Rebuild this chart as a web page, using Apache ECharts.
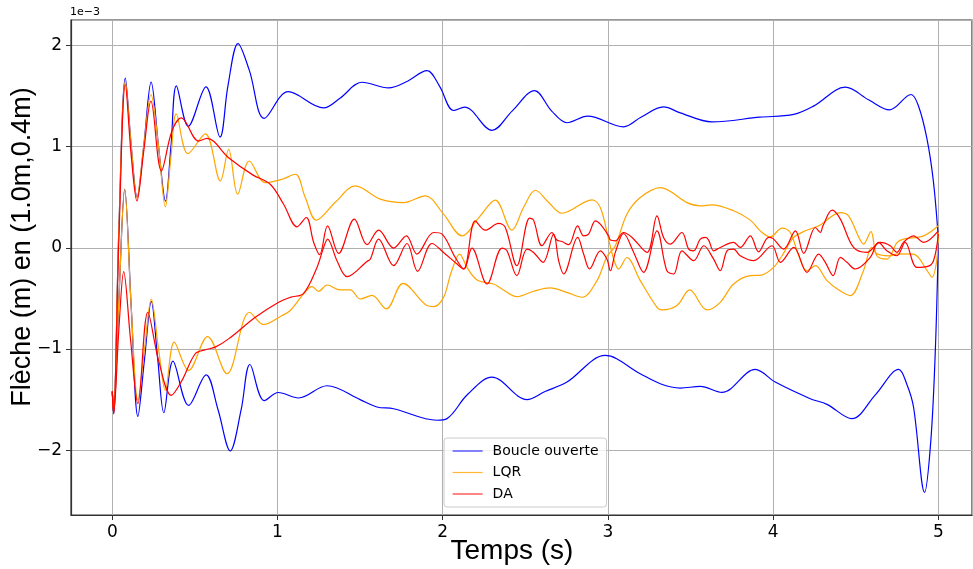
<!DOCTYPE html>
<html>
<head>
<meta charset="utf-8">
<script src="https://cdn.jsdelivr.net/npm/echarts@6/dist/echarts.min.js"></script>
<style>
html,body{margin:0;padding:0;background:#fff;}
#chart{width:973px;height:569px;}
</style>
</head>
<body>
<div id="chart"></div>
<script>
// Values are in units of 1e-3 m
const seriesNames = ['Boucle ouverte', 'LQR', 'DA'];
const xTicks = [0, 1, 2, 3, 4, 5];
const yTicks = [-2, -1, 0, 1, 2];

const boucleHaut = [[0,-1.42],[0.008,-1.64],[0.04,0.2],[0.079,1.675],[0.115,1.0],[0.15,0.50],[0.19,1.0],[0.235,1.637],[0.28,1.0],[0.322,0.46],[0.355,1.0],[0.388,1.60],[0.46,1.20],[0.567,1.59],[0.652,1.093],[0.70,1.6],[0.761,2.017],[0.83,1.75],[0.92,1.278],[1.065,1.542],[1.279,1.382],[1.38,1.48],[1.511,1.635],[1.673,1.58],[1.78,1.64],[1.905,1.75],[1.98,1.6],[2.066,1.356],[2.133,1.389],[2.298,1.16],[2.42,1.35],[2.556,1.553],[2.66,1.35],[2.752,1.235],[2.877,1.30],[3.095,1.195],[3.2,1.29],[3.337,1.392],[3.438,1.333],[3.63,1.244],[3.92,1.29],[4.125,1.317],[4.245,1.399],[4.437,1.586],[4.58,1.46],[4.705,1.362],[4.835,1.514],[4.88,1.4],[4.93,1.087],[4.97,0.66],[5.0,0.1]];
const boucleBas = [[0,-1.42],[0.008,-1.64],[0.04,-0.5],[0.075,0.578],[0.115,-0.6],[0.155,-1.665],[0.195,-1.1],[0.236,-0.53],[0.275,-1.1],[0.312,-1.63],[0.367,-1.12],[0.462,-1.557],[0.568,-1.256],[0.64,-1.6],[0.714,-2.007],[0.78,-1.6],[0.833,-1.153],[0.92,-1.51],[1.005,-1.43],[1.128,-1.484],[1.3,-1.363],[1.5,-1.50],[1.602,-1.573],[1.703,-1.59],[1.965,-1.704],[2.026,-1.688],[2.15,-1.45],[2.298,-1.278],[2.51,-1.50],[2.62,-1.42],[2.752,-1.327],[2.984,-1.064],[3.196,-1.244],[3.317,-1.343],[3.438,-1.386],[3.559,-1.37],[3.69,-1.429],[3.892,-1.202],[4.013,-1.327],[4.225,-1.491],[4.326,-1.547],[4.477,-1.688],[4.62,-1.45],[4.76,-1.202],[4.81,-1.35],[4.85,-1.573],[4.917,-2.417],[4.955,-1.90],[4.982,-1.015],[5.0,0.05]];

const lqrA = [[0,-1.42],[0.008,-1.62],[0.04,0.2],[0.079,1.645],[0.115,1.0],[0.149,0.496],[0.19,1.0],[0.234,1.514],[0.28,1.0],[0.321,0.404],[0.355,0.9],[0.387,1.323],[0.458,0.929],[0.563,1.126],[0.654,0.66],[0.704,0.972],[0.759,0.529],[0.829,0.857],[0.926,0.643],[1.027,0.677],[1.108,0.726],[1.168,0.496],[1.235,0.273],[1.35,0.45],[1.471,0.611],[1.622,0.48],[1.763,0.446],[1.895,0.512],[2.005,0.332],[2.117,0.118],[2.22,0.3],[2.318,0.47],[2.419,0.174],[2.49,0.4],[2.561,0.568],[2.64,0.45],[2.722,0.341],[2.904,0.473],[2.954,0.397],[3.004,0.086],[3.035,-0.111],[3.065,-0.21],[3.115,-0.096],[3.196,-0.325],[3.297,-0.588],[3.327,-0.614],[3.418,-0.571],[3.495,-0.417],[3.6,-0.614],[3.68,-0.539],[3.761,-0.358],[3.862,-0.276],[3.93,-0.27],[4.003,-0.194],[4.054,-0.079],[4.125,0.102],[4.2,0.17],[4.28,0.22],[4.407,0.348],[4.457,0.315],[4.52,0.1],[4.547,0.036],[4.592,0.16],[4.628,-0.079],[4.689,-0.112],[4.75,0.05],[4.789,0.085],[4.911,0.118],[5.0,0.217]];
const lqrB = [[0,-1.42],[0.008,-1.62],[0.04,-0.5],[0.075,0.578],[0.115,-0.6],[0.155,-1.507],[0.195,-1.0],[0.236,-0.506],[0.28,-1.0],[0.321,-1.409],[0.375,-0.933],[0.462,-1.212],[0.577,-0.877],[0.694,-1.244],[0.831,-0.637],[0.916,-0.759],[1.027,-0.67],[1.077,-0.62],[1.158,-0.456],[1.209,-0.384],[1.249,-0.43],[1.3,-0.368],[1.38,-0.417],[1.441,-0.417],[1.501,-0.506],[1.572,-0.47],[1.659,-0.604],[1.76,-0.351],[1.905,-0.571],[1.945,-0.581],[2.005,-0.49],[2.05,-0.25],[2.103,-0.062],[2.147,-0.194],[2.208,-0.318],[2.308,-0.358],[2.349,-0.397],[2.45,-0.483],[2.55,-0.43],[2.651,-0.397],[2.75,-0.44],[2.843,-0.489],[2.934,-0.325],[2.994,-0.089],[3.045,0.02],[3.115,0.332],[3.196,0.496],[3.317,0.594],[3.479,0.446],[3.559,0.414],[3.63,0.424],[3.761,0.365],[3.862,0.273],[3.922,0.167],[3.983,0.108],[4.054,0.194],[4.104,0.151],[4.155,-0.079],[4.205,-0.227],[4.256,-0.177],[4.326,-0.325],[4.40,-0.42],[4.467,-0.473],[4.547,-0.227],[4.597,0.003],[4.628,-0.06],[4.70,-0.08],[4.76,-0.06],[4.85,-0.062],[4.93,-0.22],[4.962,-0.292],[4.99,-0.128],[5.0,0.15]];

const daA = [[0,-1.42],[0.008,-1.62],[0.04,0.1],[0.079,1.613],[0.115,0.9],[0.149,0.463],[0.19,0.95],[0.234,1.448],[0.297,0.759],[0.361,1.153],[0.418,1.284],[0.522,1.054],[0.573,1.081],[0.704,0.89],[0.85,0.72],[0.956,0.627],[1.037,0.43],[1.118,0.207],[1.174,0.299],[1.219,0.052],[1.255,-0.069],[1.303,0.217],[1.37,-0.056],[1.465,0.283],[1.542,0.03],[1.612,0.174],[1.703,-0.003],[1.78,0.118],[1.844,-0.062],[1.945,0.151],[1.996,0.135],[2.076,-0.096],[2.127,-0.21],[2.197,0.266],[2.258,0.174],[2.338,0.24],[2.379,0.2],[2.449,-0.177],[2.526,0.292],[2.55,0.273],[2.601,0.02],[2.661,0.151],[2.691,0.076],[2.722,0.062],[2.762,0.03],[2.817,0.217],[2.853,0.118],[2.883,0.135],[2.924,0.266],[2.954,0.233],[3.004,0.118],[3.015,0.076],[3.045,0.069],[3.095,0.151],[3.146,0.102],[3.237,-0.046],[3.297,0.315],[3.337,0.102],[3.378,0.036],[3.448,0.151],[3.489,-0.013],[3.519,-0.03],[3.559,0.085],[3.59,0.102],[3.61,0.076],[3.64,-0.03],[3.68,0.003],[3.761,0.053],[3.801,0.003],[3.862,0.118],[3.912,-0.04],[3.973,0.102],[4.0,0.09],[4.064,-0.013],[4.135,0.167],[4.185,-0.056],[4.256,0.2],[4.286,0.151],[4.302,0.217],[4.357,0.371],[4.407,0.283],[4.487,0.003],[4.568,-0.046],[4.648,0.053],[4.709,0.02],[4.749,-0.046],[4.789,0.053],[4.85,0.118],[4.911,0.053],[5.0,0.167]];
const daB = [[0,-1.42],[0.008,-1.64],[0.04,-0.8],[0.069,-0.236],[0.11,-0.9],[0.155,-1.54],[0.215,-0.637],[0.28,-1.113],[0.357,-1.458],[0.422,-1.31],[0.502,-1.047],[0.563,-1.008],[0.623,-0.982],[0.704,-0.9],[0.866,-0.687],[1.007,-0.539],[1.077,-0.49],[1.158,-0.45],[1.239,-0.194],[1.279,0.003],[1.303,0.086],[1.36,-0.128],[1.421,-0.286],[1.542,-0.135],[1.562,-0.111],[1.612,0.086],[1.703,-0.177],[1.784,0.042],[1.848,-0.233],[1.935,0.042],[2.005,-0.046],[2.087,-0.161],[2.127,-0.21],[2.177,-0.003],[2.268,-0.358],[2.359,-0.003],[2.389,-0.03],[2.449,-0.276],[2.51,-0.013],[2.55,-0.046],[2.607,-0.144],[2.671,0.135],[2.702,-0.129],[2.732,-0.259],[2.817,0.102],[2.853,-0.062],[2.889,-0.21],[2.954,-0.03],[2.994,-0.112],[3.015,-0.227],[3.045,-0.046],[3.095,0.141],[3.156,-0.046],[3.216,-0.243],[3.297,0.167],[3.357,-0.227],[3.398,-0.259],[3.448,-0.03],[3.519,-0.128],[3.58,0.02],[3.64,-0.112],[3.68,-0.227],[3.721,-0.03],[3.761,-0.013],[3.801,-0.079],[3.882,-0.128],[3.993,0.02],[4.044,-0.144],[4.125,0.003],[4.205,-0.243],[4.276,-0.062],[4.316,-0.144],[4.363,-0.276],[4.407,-0.095],[4.447,-0.144],[4.497,-0.21],[4.588,-0.095],[4.638,0.053],[4.689,-0.03],[4.749,-0.079],[4.799,0.053],[4.87,-0.194],[4.931,-0.187],[4.971,-0.128],[5.0,0.135]];

const colors = {'Boucle ouverte': '#0000ff', 'LQR': '#ffa500', 'DA': '#ff0000'};
const lines = [
  {name: 'Boucle ouverte', data: boucleHaut},
  {name: 'Boucle ouverte', data: boucleBas},
  {name: 'LQR', data: lqrA},
  {name: 'LQR', data: lqrB},
  {name: 'DA', data: daA},
  {name: 'DA', data: daB}
];

const tickFont = 'DejaVu Sans';
const chart = echarts.init(document.getElementById('chart'), null, {renderer: 'canvas'});
const fmt = v => String(v).replace('-', '\u2212');

chart.setOption({
  animation: false,
  backgroundColor: '#ffffff',
  grid: {left: 71, top: 20, width: 901, height: 495, show: true, borderColor: '#333', borderWidth: 1.2, backgroundColor: 'transparent'},
  xAxis: {
    type: 'value', min: -0.25, max: 5.204, minInterval: 1, maxInterval: 1,
    axisLine: {show: true, onZero: false, lineStyle: {color: '#333', width: 1.2}},
    axisTick: {show: true, inside: false, length: 5, lineStyle: {color: '#333'}},
    axisLabel: {showMinLabel: false, showMaxLabel: false, margin: 9, color: '#000', fontFamily: tickFont, fontSize: 17,
      formatter: v => xTicks.includes(v) ? fmt(v) : ''},
    splitLine: {show: true, lineStyle: {color: '#b0b0b0', width: 1}}
  },
  yAxis: {
    type: 'value', min: -2.64, max: 2.25, minInterval: 1, maxInterval: 1,
    axisLine: {show: true, onZero: false, lineStyle: {color: '#333', width: 1.2}},
    axisTick: {show: true, inside: false, length: 5, lineStyle: {color: '#333'}},
    axisLabel: {showMinLabel: false, showMaxLabel: false, margin: 9, color: '#000', fontFamily: tickFont, fontSize: 17,
      formatter: v => yTicks.includes(v) ? fmt(v) : ''},
    splitLine: {show: true, lineStyle: {color: '#b0b0b0', width: 1}}
  },
  legend: {
    data: seriesNames,
    orient: 'vertical', left: 444, top: 438,
    itemWidth: 30, itemHeight: 14, itemGap: 7.5,
    padding: [6, 8, 6, 8],
    backgroundColor: 'rgba(255,255,255,0.8)',
    borderColor: '#cccccc', borderWidth: 1, borderRadius: 3,
    itemStyle: {opacity: 0},
    lineStyle: {width: 1.2, opacity: 0.8},
    textStyle: {fontFamily: tickFont, fontSize: 14, color: '#000', padding: [0, 0, 0, 5]}
  },
  graphic: [
    {type: 'text', left: 70, top: 7, style: {text: '1e\u22123', font: '11px "DejaVu Sans"', fill: '#000'}},
    {type: 'text', x: 23, y: 247, rotation: Math.PI / 2,
      style: {text: 'Flèche (m) en (1.0m,0.4m)', font: '27px "Liberation Sans"', fill: '#000', align: 'center', verticalAlign: 'middle'}},
    {type: 'text', x: 512, y: 551,
      style: {text: 'Temps (s)', font: '28px "Liberation Sans"', fill: '#000', align: 'center', verticalAlign: 'middle'}}
  ],
  series: lines.map(l => ({
    type: 'line', name: l.name, data: l.data, symbol: 'none', smooth: 0.35,
    lineStyle: {color: colors[l.name], width: 1.2},
    itemStyle: {color: colors[l.name]},
    clip: true
  }))
});
</script>
</body>
</html>
